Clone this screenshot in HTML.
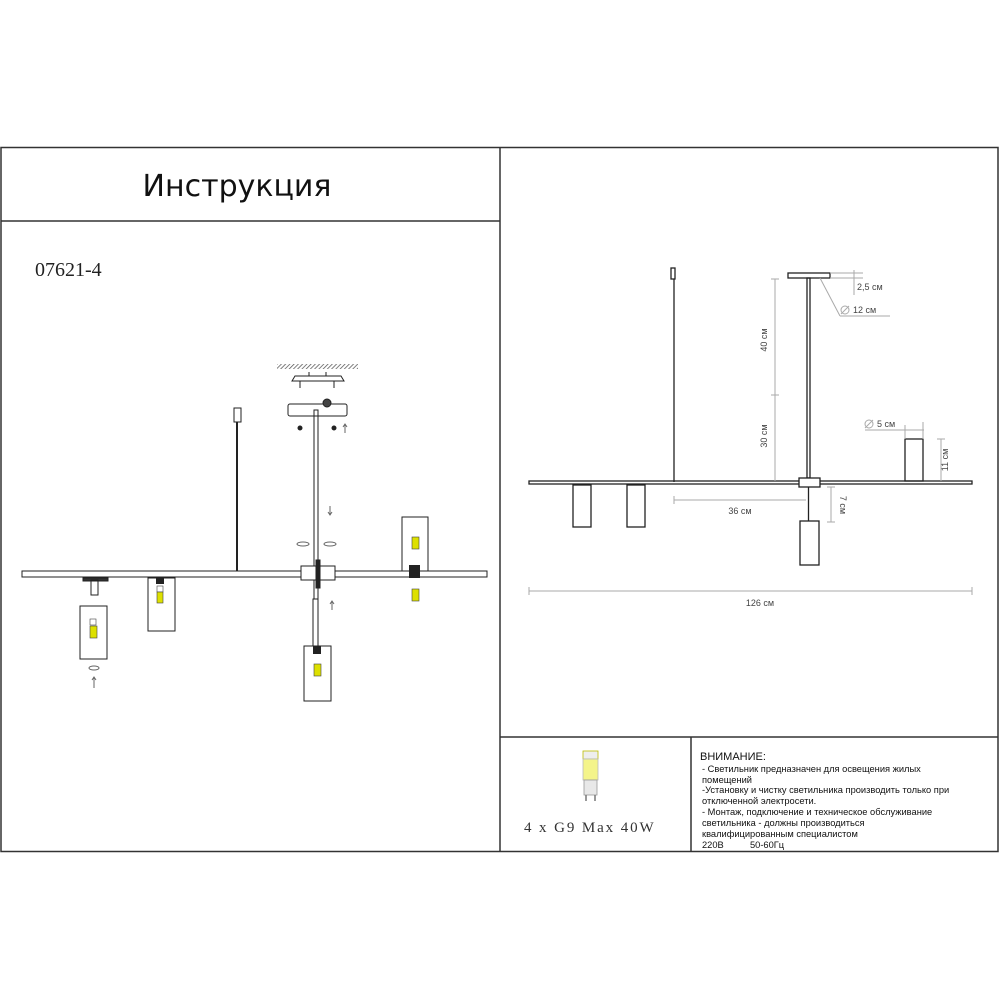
<!DOCTYPE html>
<html><head><meta charset="utf-8"><style>
html,body{margin:0;padding:0;background:#fff;}
svg{display:block;}
.s{font-family:"Liberation Sans",sans-serif;}
</style></head><body>
<svg width="1000" height="1000" viewBox="0 0 1000 1000" xmlns="http://www.w3.org/2000/svg">
<defs><pattern id="h" width="3" height="3" patternUnits="userSpaceOnUse" patternTransform="rotate(45)"><line x1="0" y1="0" x2="0" y2="3" stroke="#555" stroke-width="1.5"/></pattern></defs>
<rect x="1" y="147.5" width="997" height="704" fill="none" stroke="#333" stroke-width="1.5"/>
<line x1="500" y1="147" x2="500" y2="852" stroke="#333" stroke-width="1.5"/>
<line x1="1" y1="221" x2="500" y2="221" stroke="#333" stroke-width="1.5"/>
<line x1="500" y1="737" x2="998" y2="737" stroke="#333" stroke-width="1.5"/>
<line x1="691" y1="737" x2="691" y2="852" stroke="#333" stroke-width="1.5"/>
<text x="237" y="196" text-anchor="middle" font-family="DejaVu Sans,Liberation Sans,sans-serif" font-size="30" fill="#111">Инструкция</text>
<text x="35" y="276" font-family="Liberation Serif,serif" font-size="20" fill="#222">07621-4</text>

<g stroke="#222" fill="none" stroke-width="1">
<rect x="277" y="364" width="81" height="5" fill="url(#h)" stroke="none"/>
<path d="M292 381 h52 l-3 -5 h-46 z"/>
<line x1="300" y1="381" x2="300" y2="388"/><line x1="334" y1="381" x2="334" y2="388"/>
<line x1="309" y1="372" x2="309" y2 ="376"/><line x1="326" y1="372" x2="326" y2="376"/>
<rect x="288" y="404" width="59" height="12" rx="2"/>
<circle cx="327" cy="403" r="4" fill="#444"/>
<rect x="314" y="410" width="4" height="207" stroke-width="1"/>
<circle cx="300" cy="428" r="2" fill="#222"/><circle cx="334" cy="428" r="2" fill="#222"/>
<rect x="234" y="408" width="7" height="14"/>
<line x1="237" y1="422" x2="237" y2="571" stroke-width="2"/>
<rect x="22" y="571" width="465" height="6"/>
<rect x="301" y="566" width="34" height="14" fill="#fff"/>
<rect x="316" y="560" width="4" height="28" fill="#222"/>
<rect x="148" y="578" width="27" height="53"/>
<rect x="80" y="606" width="27" height="53"/>
<rect x="402" y="517" width="26" height="54"/>
<rect x="304" y="646" width="27" height="55"/>
<rect x="83" y="578" width="25" height="3" fill="#333"/>
<rect x="91" y="580" width="7" height="15"/>
</g>
<g>
<rect x="156" y="578" width="8" height="6" fill="#222"/>
<rect x="157" y="586" width="6" height="6" fill="#fff" stroke="#444" stroke-width=".6"/>
<rect x="157" y="592" width="6" height="11" fill="#dde000" stroke="#444" stroke-width=".6"/>
<rect x="90" y="619" width="6" height="6" fill="#fff" stroke="#444" stroke-width=".6"/>
<rect x="90" y="626" width="7" height="12" fill="#dde000" stroke="#444" stroke-width=".6"/>
<rect x="412" y="537" width="7" height="12" fill="#dde000" stroke="#444" stroke-width=".6"/>
<rect x="409" y="565" width="11" height="13" fill="#222"/>
<rect x="412" y="589" width="7" height="12" fill="#dde000" stroke="#444" stroke-width=".6"/>
<rect x="313" y="646" width="8" height="8" fill="#222"/>
<rect x="314" y="664" width="7" height="12" fill="#dde000" stroke="#444" stroke-width=".6"/>
<rect x="313" y="599" width="5" height="47" fill="#fff" stroke="#222"/>
</g>
<g fill="none" stroke="#666" stroke-width="1">
<ellipse cx="303" cy="544" rx="6" ry="2"/><ellipse cx="330" cy="544" rx="6" ry="2"/>
<ellipse cx="94" cy="668" rx="5" ry="2"/>
<path d="M330 506 v8 M328 512 l2 3 l2 -3"/><path d="M332 610 v-8 M330 604 l2 -3 l2 3"/>
<path d="M94 688 v-10 M92 680 l2 -3 l2 3"/><path d="M345 433 v-8 M343 427 l2 -3 l2 3"/>
</g>

<g stroke="#222" fill="none" stroke-width="1.3">
<rect x="671" y="268" width="4" height="11"/>
<line x1="674" y1="279" x2="674" y2="482"/>
<rect x="788" y="273" width="42" height="5"/>
<rect x="807" y="278" width="3" height="200"/>
<rect x="529" y="481" width="443" height="3"/>
<rect x="799" y="478" width="21" height="9" fill="#fff"/>
<line x1="808.5" y1="487" x2="808.5" y2="521"/>
<rect x="800" y="521" width="19" height="44"/>
<rect x="573" y="485" width="18" height="42"/>
<rect x="627" y="485" width="18" height="42"/>
<rect x="905" y="439" width="18" height="42"/>
</g>
<g stroke="#aaa" fill="none" stroke-width="1">
<line x1="775" y1="279" x2="775" y2="481"/><line x1="771" y1="279" x2="779" y2="279"/><line x1="771" y1="395" x2="779" y2="395"/>
<line x1="674" y1="500" x2="806" y2="500"/><line x1="674" y1="496" x2="674" y2="504"/>
<line x1="831" y1="487" x2="831" y2="522"/><line x1="827" y1="487" x2="835" y2="487"/><line x1="827" y1="522" x2="835" y2="522"/>
<line x1="941" y1="439" x2="941" y2="481"/><line x1="937" y1="439" x2="945" y2="439"/>
<line x1="529" y1="591" x2="972" y2="591"/><line x1="529" y1="587" x2="529" y2="595"/><line x1="972" y1="587" x2="972" y2="595"/>
<line x1="830" y1="273" x2="863" y2="273"/><line x1="830" y1="278" x2="863" y2="278"/><line x1="854" y1="270" x2="854" y2="295"/>
<line x1="820" y1="278" x2="840" y2="316"/><line x1="840" y1="316" x2="890" y2="316"/>
<line x1="865" y1="430" x2="924" y2="430"/><line x1="905" y1="425" x2="905" y2="439"/><line x1="923" y1="422" x2="923" y2="439"/>
<circle cx="845" cy="310" r="4"/><line x1="841" y1="314" x2="849" y2="306"/>
<circle cx="869" cy="424" r="4"/><line x1="865" y1="428" x2="873" y2="420"/>
</g>
<g class="s" font-size="9" fill="#444">
<text x="857" y="290">2,5 см</text>
<text x="853" y="313">12 см</text>
<text x="877" y="427">5 см</text>
<text x="740" y="514" text-anchor="middle">36 см</text>
<text x="760" y="606" text-anchor="middle">126 см</text>
<text transform="translate(767,340) rotate(-90)" text-anchor="middle">40 см</text>
<text transform="translate(767,436) rotate(-90)" text-anchor="middle">30 см</text>
<text transform="translate(840,505) rotate(90)" text-anchor="middle">7 см</text>
<text transform="translate(948,460) rotate(-90)" text-anchor="middle">11 см</text>
</g>

<g>
<rect x="583" y="751" width="15" height="8" fill="#eee" stroke="#bb0" stroke-width=".8"/>
<rect x="583" y="759" width="15" height="21" fill="#f4f48a" stroke="#bbb" stroke-width=".8"/>
<rect x="584" y="780" width="13" height="15" fill="#e8e8e8" stroke="#999" stroke-width=".8"/>
<line x1="586" y1="795" x2="586" y2="801" stroke="#777" stroke-width="1.5"/><line x1="595" y1="795" x2="595" y2="801" stroke="#777" stroke-width="1.5"/>
</g>
<text x="524" y="832" font-family="Liberation Serif,serif" font-size="15" letter-spacing="1.9" fill="#333">4 x G9 Max 40W</text>
<g class="s" font-size="9.3" fill="#111">
<text x="700" y="760" font-size="11">ВНИМАНИЕ:</text>
<text x="702" y="772">- Светильник предназначен для освещения жилых</text>
<text x="702" y="783">помещений</text>
<text x="702" y="793">-Установку и чистку светильника производить только при</text>
<text x="702" y="804">отключенной электросети.</text>
<text x="702" y="815">- Монтаж, подключение и техническое обслуживание</text>
<text x="702" y="826">светильника - должны производиться</text>
<text x="702" y="837">квалифицированным специалистом</text>
<text x="702" y="848">220В</text><text x="750" y="848">50-60Гц</text>
</g>
</svg>
</body></html>
